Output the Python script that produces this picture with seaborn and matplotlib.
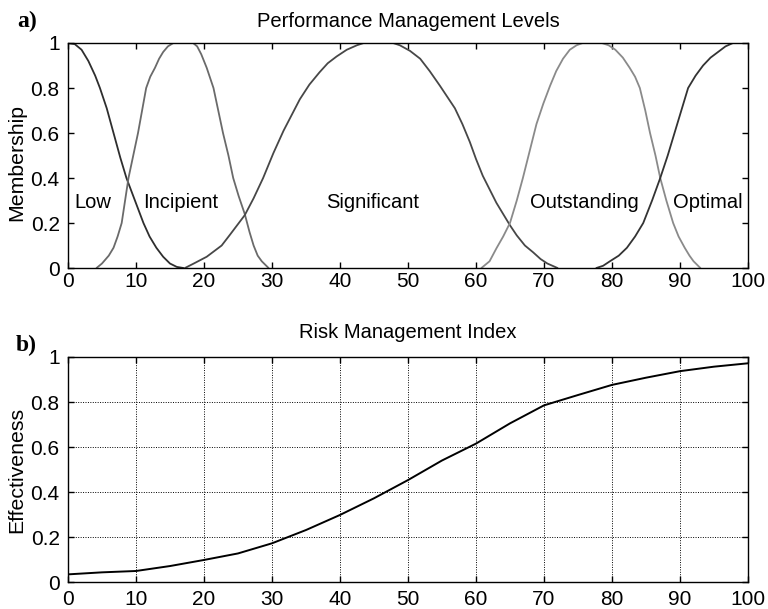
import pandas as pd

import matplotlib
matplotlib.use("Agg")
import matplotlib.pyplot as plt
import seaborn as sns

# membership curves, values
low_x = [0, 1, 2, 3, 4, 4.7, 5.7, 6.7, 7.7, 8.6, 9.1, 10.1, 11.1, 12, 13, 14, 15, 16, 17]
low_y = [1.0, 0.995, 0.97, 0.92, 0.855, 0.8, 0.71, 0.6, 0.49, 0.4, 0.36, 0.28, 0.2,
         0.14, 0.09, 0.05, 0.02, 0.005, 0]

incipient_x = [4.2, 5, 6, 6.7, 7.3, 7.9, 8.4, 8.9, 9.6, 10.3, 10.9, 11.5, 12.1, 12.8,
               13.4, 14, 14.7, 15.5, 18.4, 19, 19.6, 20.4, 21.4, 22.1, 22.8, 23.6,
               24.3, 25.1, 26, 26.7, 27.3, 27.9, 28.5, 29.5]
incipient_y = [0, 0.02, 0.055, 0.09, 0.14, 0.2, 0.3, 0.4, 0.5, 0.6, 0.7, 0.8, 0.85, 0.89,
               0.93, 0.96, 0.985, 1.0, 1.0, 0.985, 0.95, 0.89, 0.8, 0.7, 0.6, 0.5,
               0.4, 0.32, 0.24, 0.16, 0.1, 0.055, 0.03, 0]

significant_x = [17.2, 18.5, 20.4, 22.6, 23.8, 26, 27.3, 28.7, 30.2, 31.7, 32.9, 34.1,
                 35.5, 37, 38.2, 39.5, 41, 42.5, 43.5, 47.8, 48.8, 50.3, 51.8, 53.2,
                 54.7, 55.8, 56.9, 58, 59.1, 60, 61, 62, 63, 64, 65, 66, 67.2, 68.4,
                 69.5, 70.5, 72]
significant_y = [0, 0.02, 0.05, 0.1, 0.147, 0.235, 0.31, 0.4, 0.51, 0.61, 0.68, 0.75,
                 0.815, 0.87, 0.91, 0.94, 0.97, 0.99, 1.0, 1.0, 0.99, 0.965, 0.93, 0.875,
                 0.81, 0.76, 0.71, 0.64, 0.56, 0.485, 0.41, 0.35, 0.29, 0.24, 0.19, 0.145,
                 0.1, 0.07, 0.04, 0.02, 0]

outstanding_x = [60.8, 62, 63, 64, 65, 66, 66.9, 67.9, 68.9, 69.9, 70.9, 71.8, 72.8,
                 73.8, 74.8, 75.7, 78.5, 79.5, 80.5, 81.6, 82.6, 83.4, 84.1, 84.9, 85.6,
                 86.4, 87.1, 88, 89, 89.8, 90.7, 91.4, 92, 93]
outstanding_y = [0, 0.03, 0.087, 0.14, 0.2, 0.3, 0.4, 0.52, 0.64, 0.73, 0.81, 0.875, 0.93,
                 0.97, 0.99, 1.0, 1.0, 0.99, 0.97, 0.935, 0.89, 0.85, 0.8, 0.7, 0.6,
                 0.5, 0.4, 0.3, 0.2, 0.14, 0.09, 0.055, 0.03, 0]

optimal_x = [77.7, 78.7, 79.7, 81, 82.2, 83.4, 84.6, 85.9, 87.1, 88.2, 89.2, 90.2, 91.2,
             92.3, 93.4, 94.5, 95.6, 96.7, 97.8, 100]
optimal_y = [0, 0.01, 0.03, 0.055, 0.09, 0.14, 0.2, 0.3, 0.4, 0.5, 0.6, 0.7, 0.8,
             0.855, 0.9, 0.935, 0.96, 0.985, 1.0, 1.0]

level_names = ["Low", "Incipient", "Significant", "Outstanding", "Optimal"]
label_x = [0.9, 11, 38, 68, 89]

# risk management index
risk_x = [0, 5, 10, 15, 20, 25, 30, 35, 40, 45, 50, 55, 60, 65, 70, 75, 80, 85, 90, 95, 100]
risk_y = [0.034, 0.043, 0.049, 0.071, 0.098, 0.127, 0.172, 0.231, 0.298, 0.372, 0.453,
          0.54, 0.615, 0.705, 0.785, 0.831, 0.876, 0.908, 0.937, 0.957, 0.972]

x_ticks = [0, 10, 20, 30, 40, 50, 60, 70, 80, 90, 100]
y_ticks = [0, 0.2, 0.4, 0.6, 0.8, 1]
y_ticklabels = ["0", "0.2", "0.4", "0.6", "0.8", "1"]

sns.set_theme(style="ticks", rc={"axes.edgecolor": "black", "xtick.color": "black",
                                 "ytick.color": "black", "text.color": "black",
                                 "axes.labelcolor": "black"})
plt.rcParams["font.family"] = ["Liberation Sans", "DejaVu Sans"]

fig = plt.figure(figsize=(7.68, 6.09), dpi=100)
ax1 = fig.add_axes([0.0885, 0.5599, 0.8854, 0.3695])
ax2 = fig.add_axes([0.0885, 0.0443, 0.8854, 0.3695])

curves = [(low_x, low_y, "#2e2e2e"), (incipient_x, incipient_y, "#6a6a6a"),
          (significant_x, significant_y, "#474747"), (outstanding_x, outstanding_y, "#8a8a8a"),
          (optimal_x, optimal_y, "#333333")]
for name, (xs, ys, col) in zip(level_names, curves):
    df = pd.DataFrame({"x": xs, "y": ys})
    sns.lineplot(data=df, x="x", y="y", ax=ax1, color=col, lw=1.3,
                 estimator=None, sort=False)

for name, lx in zip(level_names, label_x):
    ax1.text(lx, 0.293, name, fontsize=14.5, va="center", ha="left")

risk_df = pd.DataFrame({"x": risk_x, "y": risk_y})
sns.lineplot(data=risk_df, x="x", y="y", ax=ax2, color="black", lw=1.4,
             estimator=None, sort=False)

for ax in (ax1, ax2):
    ax.set_xlim(0, 100)
    ax.set_ylim(0, 1)
    ax.set_xticks(x_ticks)
    ax.set_yticks(y_ticks)
    ax.set_yticklabels(y_ticklabels)
    ax.tick_params(direction="in", top=True, right=True, length=4, width=1,
                   labelsize=15)
    ax.tick_params(axis="y", pad=6)
    for sp in ax.spines.values():
        sp.set_linewidth(1.0)
        sp.set_color("black")

ax1.tick_params(axis="x", pad=3)
ax2.tick_params(axis="x", pad=6)

ax2.grid(True, color="black", linestyle=(0, (1, 1.5)), lw=0.7)

ax1.set_title("Performance Management Levels", fontsize=14.5, pad=11.5)
ax2.set_title("Risk Management Index", fontsize=14.5, pad=14)
ax1.set_xlabel("")
ax2.set_xlabel("")
ax1.set_ylabel("Membership", fontsize=15.3, labelpad=3, y=0.47)
ax2.set_ylabel("Effectiveness", fontsize=15.3, labelpad=3)

fig.text(0.022, 0.965, "a)", fontsize=17, fontweight="bold",
         family=["Liberation Serif", "DejaVu Serif"], va="center")
fig.text(0.020, 0.432, "b)", fontsize=17, fontweight="bold",
         family=["Liberation Serif", "DejaVu Serif"], va="center")

fig.savefig("out.png", dpi=100)
